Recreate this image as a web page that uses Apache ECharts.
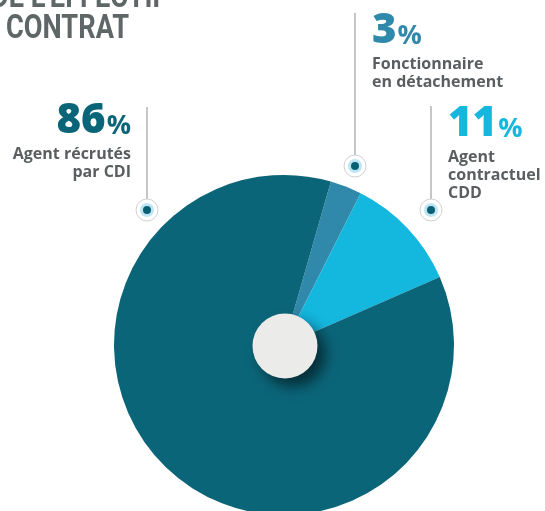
<!DOCTYPE html>
<html>
<head>
<meta charset="utf-8">
<script src="https://cdn.jsdelivr.net/npm/echarts@6/dist/echarts.min.js"></script>
<style>
  html, body { margin: 0; padding: 0; background: #ffffff; }
  #chart { width: 545px; height: 511px; }
</style>
</head>
<body>
<div id="chart"></div>
<script>
// Contract types and their share of the workforce (percent)
const categories = ['Fonctionnaire en détachement', 'Agent contractuel CDD', 'Agent récrutés par CDI'];
const shares = [3, 11, 86];
const sliceColors = ['#3088aa', '#14b7de', '#0b6579'];
const labelLines = [
  ['Fonctionnaire', 'en détachement'],
  ['Agent', 'contractuel', 'CDD'],
  ['Agent récrutés', 'par CDI']
];
const titleLines = ["DE L'EFFECTIF", 'CONTRAT'];

const chart = echarts.init(document.getElementById('chart'), null, { renderer: 'canvas' });

const FONT = '"Open Sans", "Noto Sans", sans-serif';
const TEXT_GREY = '#5a5e60';
const PIE_CENTER = [284, 345];

// Callout layout: marker position, top of the leader line, label anchor and alignment
const callouts = [
  { marker: [355, 166], lineTop: 13, label: [372, 12], align: 'left' },
  { marker: [431, 210], lineTop: 106, label: [448, 105], align: 'left' },
  { marker: [147, 210], lineTop: 107, label: [131, 102], align: 'right' }
];

function calloutGraphics(i) {
  const c = callouts[i];
  const [mx, my] = c.marker;
  return [
    { type: 'line', shape: { x1: mx, y1: c.lineTop, x2: mx, y2: my - 11 },
      style: { stroke: '#8a8d8f', lineWidth: 1 }, silent: true },
    { type: 'circle', shape: { cx: mx, cy: my, r: 11 },
      style: { fill: '#ffffff', stroke: '#cfd1d2', lineWidth: 1 }, silent: true },
    { type: 'circle', shape: { cx: mx, cy: my, r: 7 },
      style: { fill: '#bde5f4' }, silent: true },
    { type: 'circle', shape: { cx: mx, cy: my, r: 4 },
      style: { fill: '#0b5f73' }, silent: true },
    { type: 'text', x: c.label[0], y: c.label[1], silent: true,
      style: {
        text: '{n|' + shares[i] + '}{p|%}',
        align: c.align, verticalAlign: 'top',
        rich: {
          n: { fontFamily: FONT, fontWeight: 800, fontSize: 42, lineHeight: 40,
               fill: sliceColors[i], verticalAlign: 'bottom' },
          p: { fontFamily: FONT, fontWeight: 700, fontSize: 27, lineHeight: 40,
               fill: sliceColors[i], verticalAlign: 'bottom', padding: [0, 0, 2, 1] }
        }
      } },
    { type: 'text', x: c.label[0], y: c.label[1] + 43, silent: true,
      style: {
        text: labelLines[i].join('\n'),
        align: c.align, verticalAlign: 'top',
        fontFamily: FONT, fontWeight: 700, fontSize: 16, lineHeight: 18,
        fill: TEXT_GREY
      } }
  ];
}

const graphics = [];
for (let i = 0; i < shares.length; i++) graphics.push(...calloutGraphics(i));

// Section title, partly outside the canvas
titleLines.forEach((t, k) => {
  graphics.push({
    type: 'text', x: k === 0 ? -9 : 6, y: k === 0 ? 15 : 46, scaleX: 0.8, silent: true,
    style: {
      text: t, align: 'left', verticalAlign: 'bottom',
      fontFamily: 'Roboto, sans-serif',
      fontWeight: 'bold', fontSize: 34, fill: '#5f6667'
    }
  });
});

chart.setOption({
  animation: false,
  backgroundColor: '#ffffff',
  graphic: graphics,
  series: [
    {
      type: 'pie',
      center: PIE_CENTER,
      radius: [0, 170],
      startAngle: 74,
      clockwise: true,
      silent: true,
      label: { show: false },
      labelLine: { show: false },
      itemStyle: { borderWidth: 0 },
      data: categories.map((name, i) => ({
        name, value: shares[i], itemStyle: { color: sliceColors[i] }
      }))
    },
    {
      // central disc
      type: 'pie',
      center: [285, 346],
      radius: [0, 32.5],
      silent: true,
      z: 3,
      label: { show: false },
      labelLine: { show: false },
      itemStyle: {
        color: '#ebebe9',
        shadowBlur: 14,
        shadowOffsetX: 8,
        shadowOffsetY: 8,
        shadowColor: 'rgba(0, 0, 0, 0.55)'
      },
      data: [{ name: 'centre', value: 1 }]
    }
  ]
});
</script>
</body>
</html>
